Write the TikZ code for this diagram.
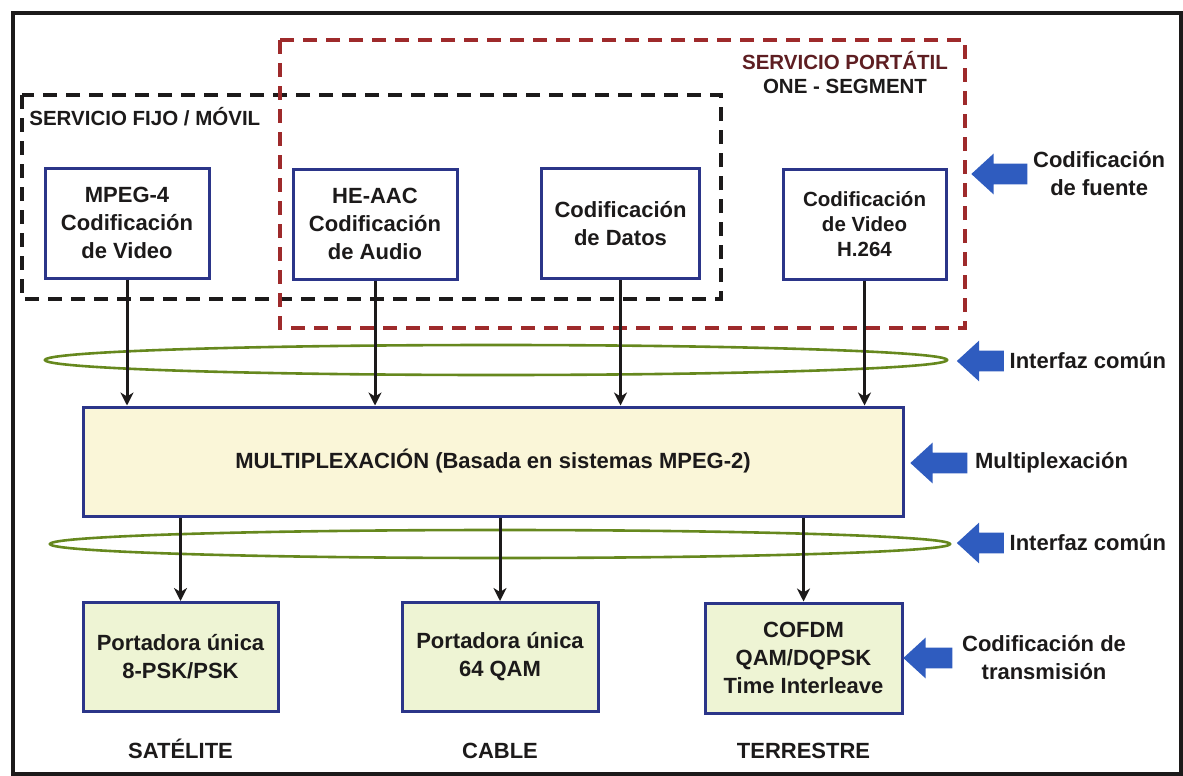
\documentclass[tikz,border=0pt]{standalone}
\usepackage{fontspec}
\setmainfont{Liberation Sans}
\usetikzlibrary{positioning}
\usetikzlibrary{shapes.geometric}
\usetikzlibrary{shapes.arrows}
\usetikzlibrary{arrows.meta}

\definecolor{ink}{HTML}{1C1A1A}
\definecolor{boxblue}{HTML}{2B3589}
\definecolor{muxfill}{HTML}{FAF6D8}
\definecolor{txfill}{HTML}{EEF4D4}
\definecolor{ifgreen}{HTML}{66881E}
\definecolor{arrowblue}{HTML}{2F5CBF}
\definecolor{portred}{HTML}{9E2A2B}
\definecolor{porttext}{HTML}{5E1E22}

\begin{document}
\begin{tikzpicture}[x=1pt, y=-1pt, thick,
  txt/.style = {font=\fontsize{22}{28}\selectfont\bfseries, text=ink, align=center},
  src/.style = {txt, draw=boxblue, line width=3pt, fill=white, minimum width=164pt, minimum height=110pt},
  tx/.style = {src, fill=txfill, minimum height=109pt},
  svc/.style = {font=\fontsize{20.5}{24}\selectfont\bfseries, text=ink, align=center, inner sep=1pt},
  lbl/.style = {txt, inner sep=1pt},
  iface/.style = {draw=ifgreen, line width=2.6pt, ellipse, inner sep=0pt},
  blk/.style = {single arrow, fill=arrowblue, draw=none, shape border rotate=180,
                single arrow head extend=10pt, single arrow tip angle=85, inner sep=10pt, minimum height=#1},
  arr/.style = {draw=ink, line width=3pt, -{Stealth[length=13pt, width=13pt, inset=4pt]}}]

  \useasboundingbox (0,0) rectangle (1183,776);
  \draw[ink, line width=4pt] (13,13) rectangle (1181,774);

  % service areas
  \draw[ink, line width=3.5pt, dash pattern=on 14pt off 9pt] (22,95) rectangle (721,299);
  \draw[portred, line width=3.5pt, dash pattern=on 14pt off 9pt] (280,40) rectangle (965,328);
  \node[svc, anchor=west] (fijo) at (28,117) {SERVICIO FIJO / MÓVIL};
  \node[svc] (port) at (845,73) {{\color{porttext}SERVICIO PORTÁTIL}\\ONE - SEGMENT};

  % source coding
  \node[src] (mp4) at (127,223) {MPEG-4\\Codificación\\de Video};
  \node[src] (aac) at (375,224) {HE-AAC\\Codificación\\de Audio};
  \node[src, minimum width=158pt] (dat) at (620.5,223.5) {Codificación\\de Datos};
  \node[src, minimum width=163pt, font=\fontsize{20.5}{25}\selectfont\bfseries] (h264) at (864.5,224) {Codificación\\de Video\\H.264};

  % common interfaces
  \node[iface, minimum width=902pt, minimum height=30pt] (if1) at (496,360) {};
  \node[iface, minimum width=900pt, minimum height=28pt] (if2) at (500,544) {};

  % multiplex
  \node[src, fill=muxfill, minimum width=820pt, minimum height=109pt] (mux) at (493,461.5) {MULTIPLEXACIÓN (Basada en sistemas MPEG-2)};

  % transmission
  \node[tx, minimum width=195pt] (sat) at (180.5,657) {Portadora única\\8-PSK/PSK};
  \node[tx, minimum width=196pt] (cab) at (500,657) {Portadora única\\64 QAM};
  \node[tx, minimum width=197pt, minimum height=110pt] (ter) at (803.5,658) {COFDM\\QAM/DQPSK\\Time Interleave};
  \node[lbl, anchor=base] (satl) at (sat.south |- 0,758) {SATÉLITE};
  \node[lbl, anchor=base] (cabl) at (cab.south |- 0,758) {CABLE};
  \node[lbl, anchor=base] (terl) at (ter.south |- 0,758) {TERRESTRE};

  \foreach \s in {mp4, aac, dat, h264}
    \draw[arr] (\s) -- (\s |- mux.north);
  \foreach \t in {sat, cab, ter}
    \draw[arr] (\t |- mux.south) -- (\t);

  % layer markers
  \node[blk=56pt] (a1) at (1005,174) {};
  \node[blk=47pt] (a2) at (986,361) {};
  \node[blk=57pt] (a3) at (944.5,463) {};
  \node[blk=47pt] (a4) at (986,543) {};
  \node[blk=49pt] (a5) at (933.5,658) {};
  \node[lbl, right=4pt of a1.tail] (l1) {Codificación\\de fuente};
  \node[lbl, right=4pt of a2.tail] (l2) {Interfaz común};
  \node[lbl, right=6pt of a3.tail] (l3) {Multiplexación};
  \node[lbl, right=4pt of a4.tail] (l4) {Interfaz común};
  \node[lbl, right=8pt of a5.tail] (l5) {Codificación de\\transmisión};
\end{tikzpicture}
\end{document}
